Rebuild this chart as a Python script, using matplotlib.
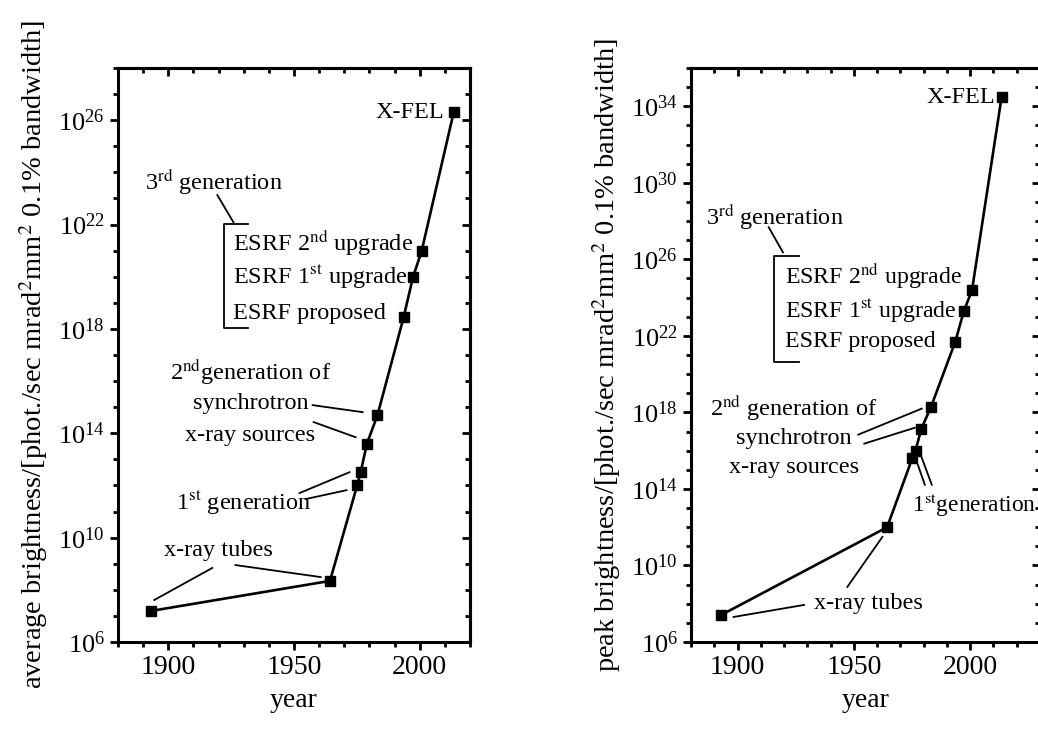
import matplotlib
matplotlib.use("Agg")
import matplotlib.pyplot as plt
from matplotlib.ticker import LogFormatterMathtext, NullFormatter

plt.rcParams['font.family'] = ['Liberation Serif', 'DejaVu Serif']
plt.rcParams['mathtext.fontset'] = 'stix'
plt.rcParams['font.size'] = 17.5

# data
years = [1893, 1964.3, 1975.1, 1976.5, 1979, 1983.2, 1993.6, 1997.3, 2000.8, 2013.5]
avg_brightness = [1.55e7, 2.2e8, 1.0e12, 3.2e12, 4.0e13, 5.0e14, 2.8e18, 9.5e19, 1.0e21, 2.0e26]
peak_brightness = [2.6e7, 1.0e12, 4.0e15, 1.0e16, 1.4e17, 2.0e18, 5.0e21, 2.0e23, 2.5e24, 3.0e34]
xticks = [1900, 1950, 2000]

fig = plt.figure(figsize=(10.38, 7.33), dpi=100)
ax1 = fig.add_axes([0.1137, 0.1241, 0.3391, 0.7831])
ax2 = fig.add_axes([0.6657, 0.1241, 0.3362, 0.7831])


def style_axes(ax, yvals, xlim, ylim, majors, minors):
    xminor = list(range(xlim[0], xlim[1] + 1, 10))
    ax.plot(years, yvals, color='black', lw=1.9, marker='s',
            ms=6.5, mfc='black', mec='black', clip_on=False, zorder=3)
    ax.set_yscale('log')
    ax.set_xticks(xticks)
    ax.set_xticks(xminor, minor=True)
    ax.set_yticks(majors)
    ax.set_yticks(minors, minor=True)
    ax.yaxis.set_major_formatter(LogFormatterMathtext())
    ax.yaxis.set_minor_formatter(NullFormatter())
    for s in ax.spines.values():
        s.set_linewidth(2.2)
    ax.tick_params(which='both', width=2)
    ax.tick_params(which='major', length=6)
    ax.tick_params(which='minor', length=3.5)
    ax.tick_params(axis='x', which='both', direction='out', top=False, labelsize=20)
    ax.tick_params(axis='y', which='both', direction='out', right=False, labelsize=19)
    # mirrored ticks on top/right, pointing inward
    sx = ax.secondary_xaxis('top')
    sx.set_xticks(xticks)
    sx.set_xticks(xminor, minor=True)
    sx.tick_params(which='both', direction='in', width=2, labeltop=False)
    sx.tick_params(which='major', length=6)
    sx.tick_params(which='minor', length=3.5)
    sx.spines['top'].set_linewidth(2.2)
    sy = ax.secondary_yaxis('right')
    sy.set_yticks(majors)
    sy.set_yticks(minors, minor=True)
    sy.yaxis.set_major_formatter(NullFormatter())
    sy.yaxis.set_minor_formatter(NullFormatter())
    sy.tick_params(which='both', direction='in', width=2)
    sy.tick_params(which='major', length=6)
    sy.tick_params(which='minor', length=3.5)
    sy.spines['right'].set_linewidth(2.2)
    # limits last: set_ticks widens the view otherwise
    ax.set_xlim(*xlim)
    ax.set_ylim(*ylim)
    ax.set_xlabel('year', fontsize=20, labelpad=5.5)


def seg(ax, x0, ly0, x1, ly1):
    ax.plot([x0, x1], [10 ** ly0, 10 ** ly1], color='black', lw=1.3, clip_on=False)


def txt(ax, x, ly, s, ha='left', size=17.5):
    ax.text(x, 10 ** ly, s, ha=ha, va='center', fontsize=size)


# ---- left panel: average brightness
style_axes(ax1, avg_brightness, (1880, 2020), (1e6, 1e28),
           [10.0 ** k for k in range(6, 27, 4)],
           [10.0 ** k for k in range(6, 29)])
ax1.set_ylabel('average brightness/[phot./sec mrad$^2$mm$^2$ 0.1% bandwidth]',
               fontsize=20.5, labelpad=6)

txt(ax1, 2009.6, 26.3, 'X-FEL', ha='right')
txt(ax1, 1890.8, 23.62, '3$^{\\mathrm{rd}}$ generation')
seg(ax1, 1919.5, 23.13, 1925.9, 22.09)
ax1.plot([1931.5, 1922.3, 1922.3, 1931.5], [10 ** 22.02, 10 ** 22.02, 10 ** 18.03, 10 ** 18.03],
         color='black', lw=1.3)
txt(ax1, 1925.9, 21.29, 'ESRF 2$^{\\mathrm{nd}}$ upgrade')
txt(ax1, 1925.9, 19.98, 'ESRF 1$^{\\mathrm{st}}$ upgrade')
txt(ax1, 1925.9, 18.61, 'ESRF proposed')
txt(ax1, 1932.7, 16.34, '2$^{\\mathrm{nd}}$generation of', ha='center')
txt(ax1, 1932.7, 15.16, 'synchrotron', ha='center')
txt(ax1, 1932.7, 13.93, 'x-ray sources', ha='center')
seg(ax1, 1957.4, 15.08, 1977.3, 14.81)
seg(ax1, 1957.8, 14.43, 1974.5, 13.85)
txt(ax1, 1903.2, 11.33, '1$^{\\mathrm{st}}$ generation')
seg(ax1, 1952.2, 11.71, 1972.1, 12.51)
seg(ax1, 1954.6, 11.48, 1970.9, 11.82)
txt(ax1, 1919.9, 9.49, 'x-ray tubes', ha='center')
seg(ax1, 1917.5, 8.84, 1894.4, 7.61)
seg(ax1, 1926.7, 8.95, 1960.6, 8.49)

# ---- right panel: peak brightness
style_axes(ax2, peak_brightness, (1880, 2030), (1e6, 1e36),
           [10.0 ** k for k in range(6, 35, 4)],
           [10.0 ** k for k in range(6, 37)])
ax2.set_ylabel('peak brightness/[phot./sec mrad$^2$mm$^2$ 0.1% bandwidth]',
               fontsize=20.5, labelpad=6)

txt(ax2, 2010.8, 34.48, 'X-FEL', ha='right')
txt(ax2, 1886.6, 28.2, '3$^{\\mathrm{rd}}$ generation')
seg(ax2, 1913.4, 27.68, 1919.5, 26.37)
ax2.plot([1926.4, 1915.6, 1915.6, 1926.4], [10 ** 26.16, 10 ** 26.16, 10 ** 20.66, 10 ** 20.66],
         color='black', lw=1.3)
txt(ax2, 1920.5, 25.11, 'ESRF 2$^{\\mathrm{nd}}$ upgrade', size=17.2)
txt(ax2, 1920.5, 23.33, 'ESRF 1$^{\\mathrm{st}}$ upgrade', size=17.2)
txt(ax2, 1920.5, 21.71, 'ESRF proposed', size=17.2)
txt(ax2, 1924.2, 18.25, '2$^{\\mathrm{nd}}$ generation of', ha='center')
txt(ax2, 1924.2, 16.63, 'synchrotron', ha='center')
txt(ax2, 1924.2, 15.11, 'x-ray sources', ha='center')
seg(ax2, 1951.9, 16.84, 1979.2, 18.2)
seg(ax2, 1954.5, 16.37, 1976.2, 17.2)
txt(ax2, 1975.0, 13.17, '1$^{\\mathrm{st}}$generation', size=16.8)
seg(ax2, 1977.5, 15.27, 1980.5, 14.22)
seg(ax2, 1979.2, 15.63, 1983.5, 14.22)
txt(ax2, 1956.3, 8.04, 'x-ray tubes', ha='center')
seg(ax2, 1898.3, 7.31, 1928.6, 7.94)
seg(ax2, 1947.2, 8.88, 1962.3, 11.5)

fig.savefig('out.png', dpi=100)
